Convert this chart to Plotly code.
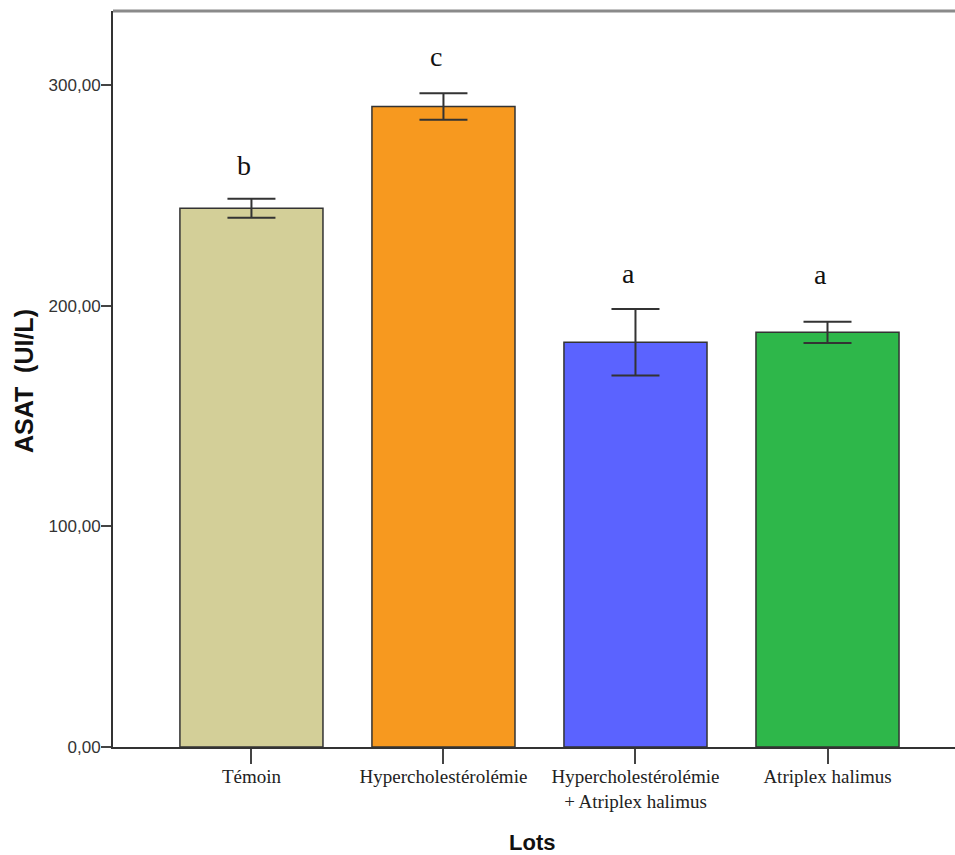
import plotly.graph_objects as go

categories = ["Témoin", "Hypercholestérolémie", "Hypercholestérolémie<br>+ Atriplex halimus", "Atriplex halimus"]
means = [244.1, 290.2, 183.4, 187.9]
errors = [4.3, 6.0, 15.1, 4.8]
letters = ["b", "c", "a", "a"]
letter_y = [263.5, 312.8, 214.7, 214.1]
colors = ["#D3CF98", "#F7991F", "#5B63FF", "#2EB74A"]
y_ticks = [0, 100, 200, 300]
y_tick_labels = ["0,00", "100,00", "200,00", "300,00"]

fig = go.Figure()
fig.add_trace(go.Bar(
    x=list(range(len(categories))),
    y=means,
    width=0.745,
    marker=dict(color=colors, line=dict(color="#333333", width=1.5)),
    error_y=dict(type="data", array=errors, visible=True, color="#333333", thickness=2, width=24),
    hoverinfo="skip",
    showlegend=False,
))

for i, (t, yv) in enumerate(zip(letters, letter_y)):
    fig.add_annotation(x=i, y=yv, text=t, showarrow=False, xshift=-7,
                       yanchor="middle", xref="x", yref="y",
                       font=dict(family="Liberation Serif", size=28, color="#111111"))

# axis titles
fig.add_annotation(x=-89/842, y=(747-381)/736, xref="paper", yref="paper",
                   text="<b>ASAT  (UI/L)</b>", textangle=-90, showarrow=False,
                   xanchor="center", yanchor="middle",
                   font=dict(family="Liberation Sans", size=25, color="#111111"))
fig.add_annotation(x=(532-113)/842, y=-(842-747)/736, xref="paper", yref="paper",
                   text="<b>Lots</b>", showarrow=False,
                   xanchor="center", yanchor="middle",
                   font=dict(family="Liberation Sans", size=22, color="#111111"))

# top border
fig.add_shape(type="line", xref="paper", yref="paper", x0=0, x1=1, y0=1, y1=1,
              line=dict(color="#8a8a8a", width=3))

fig.update_layout(
    width=955, height=855,
    margin=dict(l=113, r=0, t=11, b=108),
    paper_bgcolor="white", plot_bgcolor="white",
    xaxis=dict(
        range=[-0.721, 3.664],
        tickmode="array", tickvals=list(range(len(categories))), ticktext=categories,
        ticks="outside", ticklen=15, tickwidth=2, tickcolor="#444444",
        ticklabelstandoff=-4,
        showline=True, linecolor="#333333", linewidth=2,
        showgrid=False, zeroline=False,
        tickfont=dict(family="Liberation Serif", size=19, color="#222222"),
    ),
    yaxis=dict(
        range=[0, 333.5],
        tickmode="array", tickvals=y_ticks, ticktext=y_tick_labels,
        ticks="outside", ticklen=10, tickwidth=2, tickcolor="#444444",
        ticklabelstandoff=-3,
        showline=True, linecolor="#333333", linewidth=2,
        showgrid=False, zeroline=False,
        tickfont=dict(family="Liberation Sans", size=17, color="#333333"),
    ),
)

fig.write_html("out.html")
